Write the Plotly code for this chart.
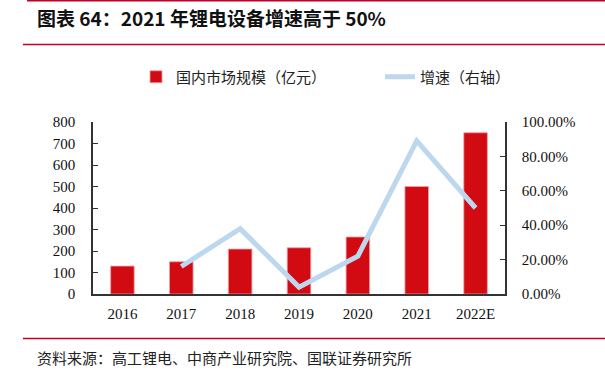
import plotly.graph_objects as go

years = ["2016", "2017", "2018", "2019", "2020", "2021", "2022E"]
market_size = [130, 150, 209, 215, 265, 500, 750]          # 亿元
growth_years = ["2017", "2018", "2019", "2020", "2021", "2022E"]
growth = [0.16, 0.38, 0.04, 0.22, 0.89, 0.50]

left_ticks = [0, 100, 200, 300, 400, 500, 600, 700, 800]
right_ticks = [0, 0.2, 0.4, 0.6, 0.8, 1.0]

title_text = "图表 64：2021 年锂电设备增速高于 50%"
source_text = "资料来源：高工锂电、中商产业研究院、国联证券研究所"

RED = "#D20A11"
BLUE = "#BDD7EE"
LINE_RED = "#C00024"
CJK = "Noto Sans CJK SC"
SERIF = "Liberation Serif"

W, H = 605, 388
L, R, T, B = 93, 100, 122, 94
pw = W - L - R
ph = H - T - B


def px(x):
    return (x - L) / pw


def py(y):
    return (H - B - y) / ph


fig = go.Figure()
fig.add_trace(go.Bar(
    x=years, y=market_size, name="国内市场规模（亿元）",
    marker=dict(color=RED, line=dict(color="#F0A0A8", width=0.8)),
    width=0.4, yaxis="y", legend="legend",
))
fig.add_trace(go.Scatter(
    x=growth_years, y=growth, name="增速（右轴）", mode="lines",
    line=dict(color=BLUE, width=5), yaxis="y2", legend="legend2",
))

leg_font = dict(family=CJK, size=15, color="#222")
fig.update_layout(
    width=W, height=H,
    margin=dict(l=L, r=R, t=T, b=B, autoexpand=False),
    paper_bgcolor="white", plot_bgcolor="white",
    showlegend=True,
    legend=dict(x=px(136), y=py(77), yanchor="middle", xanchor="left", font=leg_font,
                bgcolor="rgba(0,0,0,0)"),
    legend2=dict(x=px(380), y=py(77), yanchor="middle", xanchor="left", font=leg_font,
                 bgcolor="rgba(0,0,0,0)"),
    xaxis=dict(type="category", showline=True, linecolor="#333", linewidth=1.5,
               ticks="", tickfont=dict(family=SERIF, size=15, color="#111"),
               showgrid=False, range=[-0.5, 6.5], ticklabelstandoff=5),
    yaxis=dict(range=[0, 800], tickvals=left_ticks, showline=True, linecolor="#333",
               linewidth=1.5, ticks="inside", ticklen=5, tickcolor="#333",
               showgrid=False, zeroline=False,
               tickfont=dict(family=SERIF, size=15, color="#111"), ticklabelstandoff=13),
    yaxis2=dict(range=[0, 1.0], tickvals=right_ticks, tickformat=".2%", overlaying="y",
                side="right", showline=True, linecolor="#333", linewidth=1.5,
                ticks="inside", ticklen=5, tickcolor="#333", showgrid=False, zeroline=False,
                tickfont=dict(family=SERIF, size=15, color="#111"), ticklabelstandoff=12),
    bargap=0.6,
)

shapes = [
    dict(type="line", xref="paper", yref="paper", x0=px(27), x1=px(605), y0=py(0.8), y1=py(0.8),
         line=dict(color=LINE_RED, width=1.6)),
    dict(type="line", xref="paper", yref="paper", x0=px(23), x1=px(605), y0=py(44.5), y1=py(44.5),
         line=dict(color=LINE_RED, width=1.6)),
    dict(type="line", xref="paper", yref="paper", x0=px(23), x1=px(605), y0=py(338.5), y1=py(338.5),
         line=dict(color=LINE_RED, width=1.6)),
]
fig.update_layout(shapes=shapes)

fig.add_annotation(text="<b>" + title_text + "</b>", xref="paper", yref="paper",
                   x=px(35), y=py(17), xanchor="left", yanchor="middle", showarrow=False,
                   font=dict(family=CJK, size=19, color="#111"))
fig.add_annotation(text=source_text, xref="paper", yref="paper",
                   x=px(35), y=py(357), xanchor="left", yanchor="middle", showarrow=False,
                   font=dict(family=CJK, size=15, color="#222"))

fig.write_html("out.html", config={"displayModeBar": False},
               post_script="document.body.style.margin='0';document.body.style.overflow='hidden';")
